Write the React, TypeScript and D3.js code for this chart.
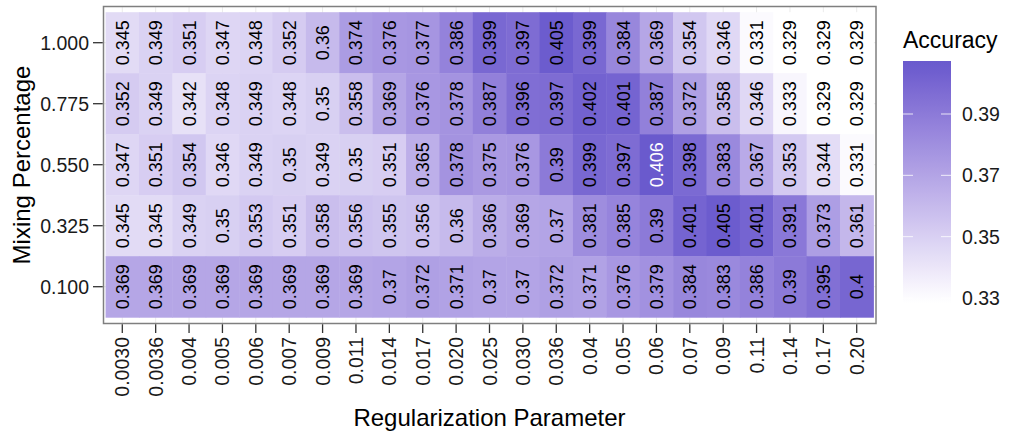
import React from "react";
import * as d3 from "d3";

// Regularization parameter levels (x axis, discrete)
const regParams = [
  "0.0030", "0.0036", "0.004", "0.005", "0.006", "0.007", "0.009", "0.011",
  "0.014", "0.017", "0.020", "0.025", "0.030", "0.036", "0.04", "0.05",
  "0.06", "0.07", "0.09", "0.11", "0.14", "0.17", "0.20",
];

// Mixing percentage levels (y axis, top to bottom)
const mixPcts = ["1.000", "0.775", "0.550", "0.325", "0.100"];

// Accuracy per mixing percentage, one value per regularization parameter
const acc1000 = [0.345, 0.349, 0.351, 0.347, 0.348, 0.352, 0.36, 0.374, 0.376, 0.377, 0.386, 0.399, 0.397, 0.405, 0.399, 0.384, 0.369, 0.354, 0.346, 0.331, 0.329, 0.329, 0.329];
const acc0775 = [0.352, 0.349, 0.342, 0.348, 0.349, 0.348, 0.35, 0.358, 0.369, 0.376, 0.378, 0.387, 0.396, 0.397, 0.402, 0.401, 0.387, 0.372, 0.358, 0.346, 0.333, 0.329, 0.329];
const acc0550 = [0.347, 0.351, 0.354, 0.346, 0.349, 0.35, 0.349, 0.35, 0.351, 0.365, 0.378, 0.375, 0.376, 0.39, 0.399, 0.397, 0.406, 0.398, 0.383, 0.367, 0.353, 0.344, 0.331];
const acc0325 = [0.345, 0.345, 0.349, 0.35, 0.353, 0.351, 0.358, 0.356, 0.355, 0.356, 0.36, 0.366, 0.369, 0.37, 0.381, 0.385, 0.39, 0.401, 0.405, 0.401, 0.391, 0.373, 0.361];
const acc0100 = [0.369, 0.369, 0.369, 0.369, 0.369, 0.369, 0.369, 0.369, 0.37, 0.372, 0.371, 0.37, 0.37, 0.372, 0.371, 0.376, 0.379, 0.384, 0.383, 0.386, 0.39, 0.395, 0.4];

const accuracyRows = [acc1000, acc0775, acc0550, acc0325, acc0100];

// Colour bar breaks
const legendTicks = [0.33, 0.35, 0.37, 0.39];

const FONT = "'Liberation Sans', Arial, Helvetica, sans-serif";

export default function App() {
  const width = 1011;
  const height = 436;

  const cells = accuracyRows.flatMap((row, ri) =>
    row.map((v, ci) => ({ mix: mixPcts[ri], reg: regParams[ci], value: v }))
  );
  const [vmin, vmax] = d3.extent(cells, (d) => d.value) as [number, number];

  const x = d3.scaleBand<string>().domain(regParams).range([105.6, 873.4]).padding(0);
  const y = d3.scaleBand<string>().domain(mixPcts).range([12.2, 317.2]).padding(0);

  const color = d3
    .scaleLinear<string>()
    .domain([vmin, vmax])
    .range(["#ffffff", "#6a5acd"])
    .interpolate(d3.interpolateLab)
    .clamp(true);

  // Panel frame
  const panel = { x0: 103.5, y0: 6.5, x1: 876, y1: 323.5 };

  // Legend colour bar
  const barX = 903;
  const barW = 48;
  const barTop = 61;
  const barBottom = 303;
  const legendY = d3.scaleLinear().domain([0.33, 0.39]).range([298, 114]);
  const stops = d3.range(0, 1.0001, 0.05).map((t) => ({
    offset: t,
    fill: color(legendY.invert(barTop + t * (barBottom - barTop))),
  }));

  const xc = (r: string) => (x(r) ?? 0) + x.bandwidth() / 2;
  const yc = (m: string) => (y(m) ?? 0) + y.bandwidth() / 2;

  return (
    <svg
      width={width}
      height={height}
      style={{ position: "absolute", left: 0, top: 0, background: "#fff" }}
      fontFamily={FONT}
    >
      <defs>
        <linearGradient id="accBar" x1="0" y1="0" x2="0" y2="1">
          {stops.map((s, i) => (
            <stop key={i} offset={s.offset} stopColor={s.fill} />
          ))}
        </linearGradient>
      </defs>
      <rect x={0} y={0} width={width} height={height} fill="#fff" />

      {/* grid lines */}
      <g stroke="#ebebeb" strokeWidth={1}>
        {regParams.map((r) => (
          <line key={r} x1={xc(r)} x2={xc(r)} y1={panel.y0} y2={panel.y1} />
        ))}
        {mixPcts.map((m) => (
          <line key={m} x1={panel.x0} x2={panel.x1} y1={yc(m)} y2={yc(m)} />
        ))}
      </g>

      {/* tiles */}
      <g>
        {cells.map((d) => (
          <rect
            key={d.mix + "_" + d.reg}
            x={x(d.reg)}
            y={y(d.mix)}
            width={x.bandwidth() + 0.5}
            height={y.bandwidth() + 0.5}
            fill={color(d.value)}
          />
        ))}
      </g>

      {/* cell labels */}
      <g fontSize={18} textAnchor="middle">
        {cells.map((d) => (
          <text
            key={"t" + d.mix + "_" + d.reg}
            transform={`translate(${xc(d.reg) + 6.5},${yc(d.mix)}) rotate(-90)`}
            fill={d.value === vmax ? "#ffffff" : "#000000"}
          >
            {String(d.value)}
          </text>
        ))}
      </g>

      {/* panel border */}
      <rect
        x={panel.x0}
        y={panel.y0}
        width={panel.x1 - panel.x0}
        height={panel.y1 - panel.y0}
        fill="none"
        stroke="#7f7f7f"
        strokeWidth={1.5}
      />

      {/* y axis */}
      <g>
        {mixPcts.map((m) => (
          <g key={m}>
            <line x1={93} x2={panel.x0 - 0.75} y1={yc(m)} y2={yc(m)} stroke="#333" strokeWidth={1.3} />
            <text x={89} y={yc(m) + 7} textAnchor="end" fontSize={19.5} fill="#1a1a1a">
              {m}
            </text>
          </g>
        ))}
        <text
          transform={`translate(30,${(panel.y0 + panel.y1) / 2}) rotate(-90)`}
          textAnchor="middle"
          fontSize={24}
          fill="#000"
        >
          Mixing Percentage
        </text>
      </g>

      {/* x axis */}
      <g>
        {regParams.map((r) => (
          <g key={r}>
            <line x1={xc(r)} x2={xc(r)} y1={panel.y1 + 0.75} y2={333} stroke="#333" strokeWidth={1.3} />
            <text
              transform={`translate(${xc(r) + 7},337) rotate(-90)`}
              textAnchor="end"
              fontSize={19.5}
              fill="#1a1a1a"
            >
              {r}
            </text>
          </g>
        ))}
        <text x={(x.range()[0] + x.range()[1]) / 2} y={426} textAnchor="middle" fontSize={24} fill="#000">
          Regularization Parameter
        </text>
      </g>

      {/* legend */}
      <g>
        <text x={barX} y={48} fontSize={23} fill="#000">
          Accuracy
        </text>
        <rect x={barX} y={barTop} width={barW} height={barBottom - barTop} fill="url(#accBar)" />
        {legendTicks.map((t) => (
          <g key={t}>
            <line x1={barX} x2={barX + 10} y1={legendY(t)} y2={legendY(t)} stroke="#fff" strokeOpacity={0.8} strokeWidth={1} />
            <line x1={barX + barW - 10} x2={barX + barW} y1={legendY(t)} y2={legendY(t)} stroke="#fff" strokeOpacity={0.8} strokeWidth={1} />
            <text x={962} y={legendY(t) + 7} fontSize={19.5} fill="#1a1a1a">
              {d3.format(".2f")(t)}
            </text>
          </g>
        ))}
      </g>
    </svg>
  );
}
